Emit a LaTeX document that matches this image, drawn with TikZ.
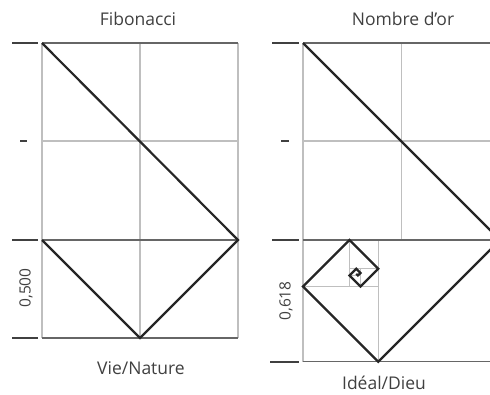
\documentclass[tikz,border=0pt]{standalone}
\usepackage{fontspec}
\setmainfont{Open Sans}
\begin{document}
\begin{tikzpicture}[x=1pt,y=-1pt,
  gridline/.style={draw=black!25,line width=1.1pt},
  frameline/.style={draw=black!60,line width=1.2pt},
  tickmark/.style={draw=black!75,line width=1.3pt},
  thickline/.style={draw=black!85,line width=2.2pt,line join=miter},
  lbl/.style={text=black!75,font=\fontsize{17.5}{20}\selectfont,inner sep=0pt},
  vlbl/.style={text=black!75,font=\fontsize{15.5}{18}\selectfont,inner sep=0pt,rotate=90}]
\useasboundingbox (0,0) rectangle (490,394);
\clip (0,0) rectangle (490,394);
% ---------- left panel: Fibonacci ----------
\coordinate (LTL) at (42,43);
\coordinate (LTM) at (140,43);
\coordinate (LTR) at (238,43);
\coordinate (L1L) at (42,141);
\coordinate (L1M) at (140,141);
\coordinate (L1R) at (238,141);
\coordinate (L2L) at (42,240);
\coordinate (L2R) at (238,240);
\coordinate (LBL) at (42,338);
\coordinate (LBM) at (140,338);
\coordinate (LBR) at (238,338);
\draw[gridline] (LTL) -- (LBL);
\draw[gridline] (LTM) -- (LBM);
\draw[gridline] (LTR) -- (LBR);
\draw[gridline] (L1L) -- (L1R);
\draw[frameline] (LTL) -- (LTR);
\draw[frameline] (L2L) -- (L2R);
\draw[frameline] (LBL) -- (LBR);
\coordinate (lt0a) at (12,43); \coordinate (lt0b) at (38,43);
\coordinate (lt1a) at (20,141); \coordinate (lt1b) at (27,141);
\coordinate (lt2a) at (12,240); \coordinate (lt2b) at (38,240);
\coordinate (lt3a) at (12,338); \coordinate (lt3b) at (38,338);
\draw[tickmark] (lt0a) -- (lt0b);
\draw[tickmark] (lt1a) -- (lt1b);
\draw[tickmark] (lt2a) -- (lt2b);
\draw[tickmark] (lt3a) -- (lt3b);
\draw[thickline] (LTL) -- (L2R) -- (LBM) -- (L2L);
\node[lbl] (fib) at (138,19) {Fibonacci};
\node[lbl] (vie) at (141,368) {Vie/Nature};
\node[vlbl] (v500) at (26,288) {0,500};
% ---------- right panel: Nombre d'or ----------
\coordinate (RTL) at (303,43);
\coordinate (RTM) at (401.5,43);
\coordinate (RTR) at (500,43);
\coordinate (R1L) at (303,141);
\coordinate (R1R) at (500,141);
\coordinate (R2L) at (303,240);
\coordinate (R2M) at (401.5,240);
\coordinate (R2R) at (500,240);
\coordinate (RBL) at (303,361.75);
\coordinate (RBR) at (500,361.75);
% spiral squares
\coordinate (S1) at (378.25,361.75);
\coordinate (S1t) at (378.25,240);
\coordinate (S2) at (303,286.5);
\coordinate (S2r) at (378.25,286.5);
\coordinate (S3) at (349.5,240);
\coordinate (S3b) at (349.5,286.5);
\coordinate (S4) at (378.25,268.75);
\coordinate (S4l) at (349.5,268.75);
\coordinate (S5) at (360.5,286.5);
\coordinate (S5t) at (360.5,268.75);
\coordinate (S6) at (349.5,275.5);
\coordinate (S6r) at (360.5,275.5);
\coordinate (S7) at (356.25,268.75);
\coordinate (S8) at (360.5,273);
\coordinate (S9) at (357.9,275.5);
\coordinate (S10) at (356.25,273.9);
\draw[gridline] (RTL) -- (RBL);
\draw[gridline] (RTM) -- (R2M);
\draw[gridline] (R1L) -- (R1R);
\draw[gridline] (S1t) -- (S1);
\draw[gridline] (S2) -- (S2r);
\draw[gridline] (S3) -- (S3b);
\draw[gridline] (S4l) -- (S4);
\draw[gridline,line width=0.7pt] (S5t) -- (S5);
\draw[gridline,line width=0.7pt] (S6) -- (S6r);
\draw[frameline] (RTL) -- (RTR);
\draw[frameline] (R2L) -- (R2R);
\draw[frameline] (RBL) -- (RBR);
\coordinate (rt0a) at (272,43); \coordinate (rt0b) at (299,43);
\coordinate (rt1a) at (281,141); \coordinate (rt1b) at (289,141);
\coordinate (rt2a) at (272,240); \coordinate (rt2b) at (299,240);
\coordinate (rt3a) at (270,362); \coordinate (rt3b) at (299,362);
\draw[tickmark] (rt0a) -- (rt0b);
\draw[tickmark] (rt1a) -- (rt1b);
\draw[tickmark] (rt2a) -- (rt2b);
\draw[tickmark] (rt3a) -- (rt3b);
\draw[thickline] (RTL) -- (R2R) -- (S1) -- (S2) -- (S3) -- (S4) -- (S5) -- (S6) -- (S7) -- (S8) -- (S9) -- (S10);
\node[lbl] (nor) at (403,19) {Nombre d’or};
\node[lbl] (ideal) at (384,383) {Idéal/Dieu};
\node[vlbl] (v618) at (286,301) {0,618};
\end{tikzpicture}
\end{document}
